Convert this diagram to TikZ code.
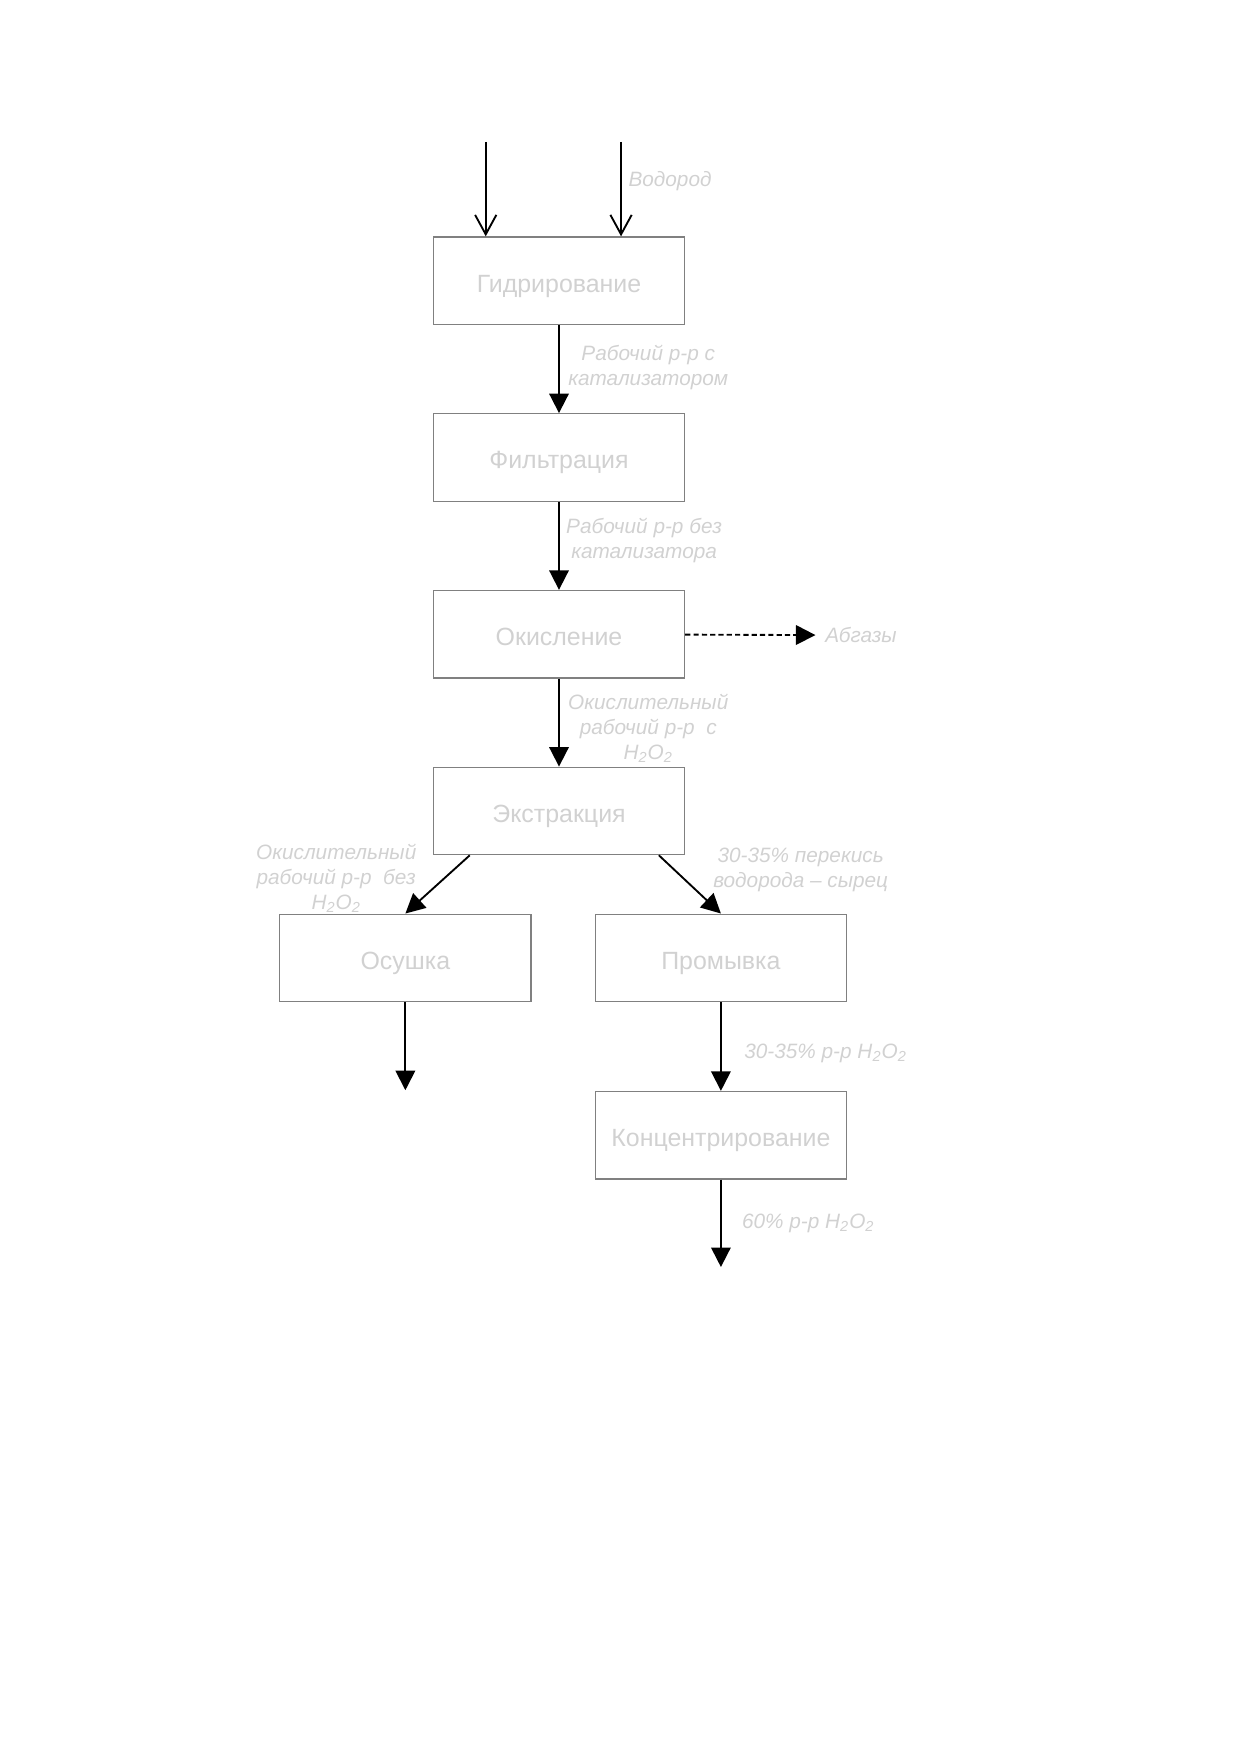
\documentclass[tikz,border=0pt]{standalone}
\usepackage{fontspec}
\setmainfont{Liberation Sans}
\usetikzlibrary{positioning,calc,arrows.meta}

\begin{document}
\begin{tikzpicture}[auto, node distance=1.49cm,
    stage/.style={draw=black!50, line width=0.6pt, minimum width=4.25cm, minimum height=1.48cm, inner sep=0pt, text height=11pt, text depth=0pt, text=black!18, font=\fontsize{12}{14}\selectfont},
    flowlbl/.style={text=black!18, font=\itshape\fontsize{10}{12}\selectfont, align=center, inner sep=0pt},
    flow/.style={line width=0.9pt, -{Triangle[length=3.3mm,width=3.3mm]}},
    feed/.style={line width=0.9pt, -{Straight Barb[length=3.3mm,width=3.6mm]}}]
    \useasboundingbox (0,0) rectangle (21,-29.7);

    \node [stage] (gidr) at (9.46,-4.75) {Гидрирование};
    \node [stage, below=of gidr] (filtr) {Фильтрация};
    \node [stage, below=of filtr] (okisl) {Окисление};
    \node [stage, below=of okisl] (extr) {Экстракция};
    \node [stage] (osush) at (6.86,-16.21) {Осушка};
    \node [stage] (prom) at (12.20,-16.21) {Промывка};
    \node [stage, below=1.5cm of prom] (konc) {Концентрирование};

    \coordinate (in1) at (8.22,-2.40);
    \coordinate (in2) at (10.51,-2.40);
    \coordinate (dryout) at (6.86,-18.45);
    \coordinate (concout) at ($(konc.south)+(0,-1.48)$);

    \node [flowlbl, anchor=west] (h2) at (10.63,-3.07) {Водород};
    \node [flowlbl] (lblcat) at (10.97,-6.22) {Рабочий р-р с\\катализатором};
    \node [flowlbl] (lblnocat) at (10.90,-9.15) {Рабочий р-р без\\катализатора};
    \node [flowlbl, anchor=west] (abgaz) at (13.96,-10.75) {Абгазы};
    \node [flowlbl] (lbloxh) at (10.97,-12.32) {Окислительный\\рабочий р-р~ с\\H\textsubscript{2}O\textsubscript{2}};
    \node [flowlbl] (lbloxno) at (5.69,-14.87) {Окислительный\\рабочий р-р~ без\\H\textsubscript{2}O\textsubscript{2}};
    \node [flowlbl] (lblraw) at (13.55,-14.72) {30-35\% перекись\\водорода – сырец};
    \node [flowlbl, anchor=west] (lbl35) at (12.59,-17.82) {30-35\% р-р H\textsubscript{2}O\textsubscript{2}};
    \node [flowlbl, anchor=west] (lbl60) at (12.55,-20.70) {60\% р-р H\textsubscript{2}O\textsubscript{2}};

    \draw [feed] (in1) -- (in1 |- gidr.north);
    \draw [feed] (in2) -- (in2 |- gidr.north);
    \draw [flow] (gidr) -- (filtr);
    \draw [flow] (filtr) -- (okisl);
    \draw [flow] (okisl) -- (extr);
    \draw [flow, dash pattern=on 2.5pt off 1.5pt, shorten >=1.6mm] (okisl) -- (abgaz);
    \draw [flow] ($(extr.south)+(-1.51,0)$) -- (osush.north);
    \draw [flow] ($(extr.south)+(1.69,0)$) -- (prom.north);
    \draw [flow] (osush) -- (dryout);
    \draw [flow] (prom) -- (konc);
    \draw [flow] (konc) -- (concout);
\end{tikzpicture}
\end{document}
